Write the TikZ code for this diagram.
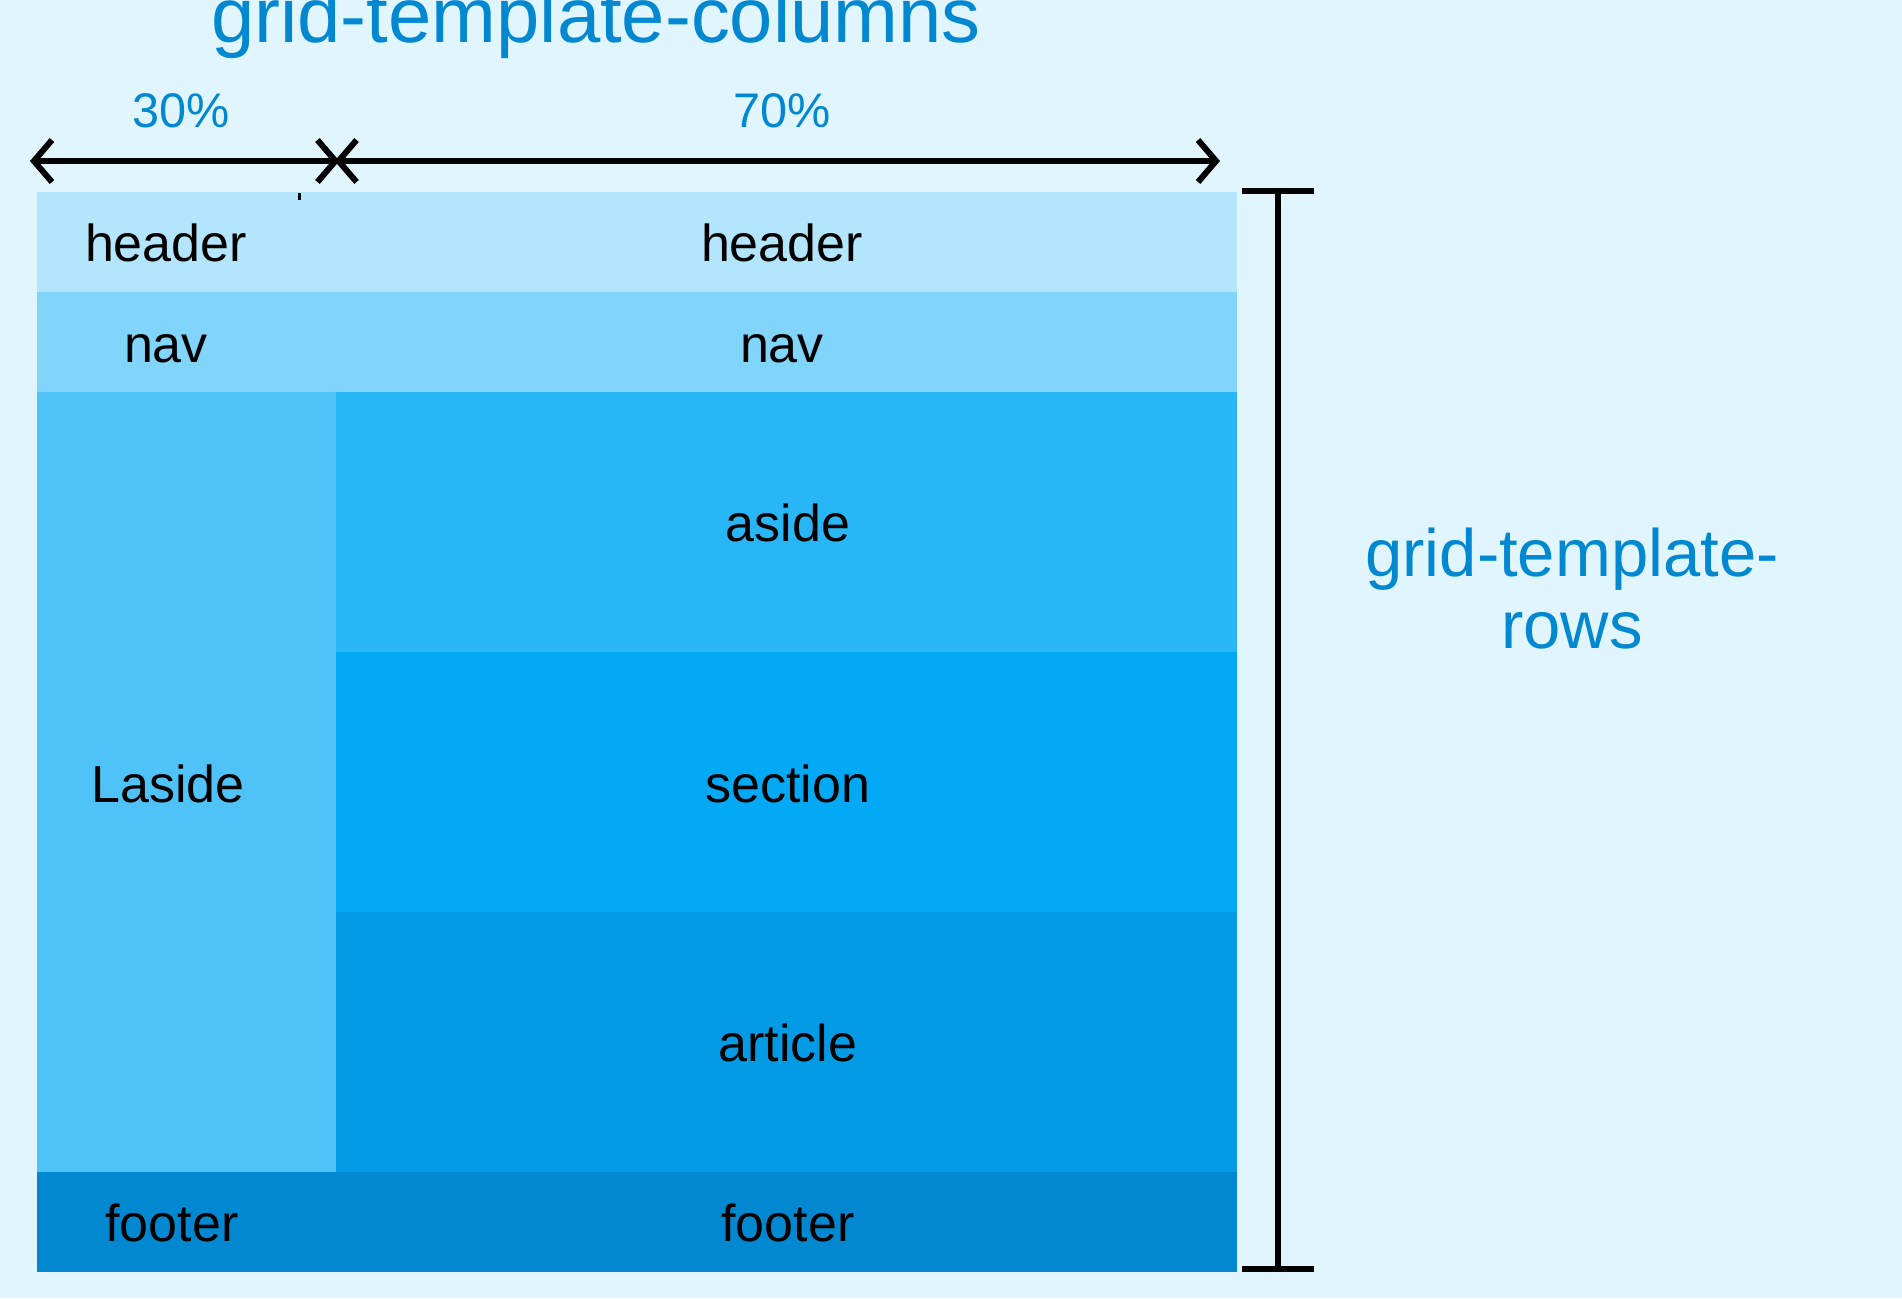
\documentclass[tikz,border=0pt]{standalone}
\usepackage{xcolor}
\usepackage{fontspec}
\setmainfont{Liberation Sans}
\usetikzlibrary{positioning, arrows.meta}
\definecolor{pagebg}{HTML}{E1F5FE}
\definecolor{headerbg}{HTML}{B3E5FC}
\definecolor{navbg}{HTML}{81D4FA}
\definecolor{lasidebg}{HTML}{4FC3F7}
\definecolor{asidebg}{HTML}{29B6F6}
\definecolor{sectionbg}{HTML}{03A9F4}
\definecolor{articlebg}{HTML}{039BE5}
\definecolor{footerbg}{HTML}{0288D1}
\definecolor{dimblue}{HTML}{0288D1}

\begin{document}
\begin{tikzpicture}[x=0.5pt, y=-0.5pt,
    celltext/.style={font=\fontsize{26}{30}\selectfont, text=black, anchor=base, inner sep=0pt},
    dimtext/.style={text=dimblue, anchor=base, inner sep=0pt},
    dimline/.style={line width=3pt, line cap=round, line join=round}]
  % page
  \fill[pagebg] (0,0) rectangle (1902,1298);
  \useasboundingbox (0,0) rectangle (1902,1298);

  % grid areas
  \fill[headerbg]  (37,192)  rectangle (1237,292);
  \fill[navbg]     (37,292)  rectangle (1237,392);
  \fill[lasidebg]  (37,392)  rectangle (336,1172);
  \fill[asidebg]   (336,392) rectangle (1237,652);
  \fill[sectionbg] (336,652) rectangle (1237,912);
  \fill[articlebg] (336,912) rectangle (1237,1172);
  \fill[footerbg]  (37,1172) rectangle (1237,1272);
  \draw[line width=1.5pt] (299,193) -- (299,200);

  % area names
  \node[celltext] (hdrL)  at (166,261)  {header};
  \node[celltext] (hdrR)  at (782,261)  {header};
  \node[celltext] (navL)  at (166,362)  {nav};
  \node[celltext] (navR)  at (782,362)  {nav};
  \node[celltext] (aside) at (788,541)  {aside};
  \node[celltext] (lasd)  at (168,802)  {Laside};
  \node[celltext] (sect)  at (788,802)  {section};
  \node[celltext] (artc)  at (788,1061) {article};
  \node[celltext] (ftrL)  at (172,1241) {footer};
  \node[celltext] (ftrR)  at (788,1241) {footer};

  % columns
  \node[dimtext, font=\fontsize{38.9}{44}\selectfont] (coltitle) at (596,42) {grid-template-columns};
  \node[dimtext, font=\fontsize{24.3}{28}\selectfont] (colA) at (181,127) {30\%};
  \node[dimtext, font=\fontsize{24.3}{28}\selectfont] (colB) at (782,127) {70\%};
  \coordinate (colL) at (30,161);
  \coordinate (colM) at (337,161);
  \coordinate (colR) at (1220,161);
  \draw[dimline, shorten >=-1.2pt, {Straight Barb[length=9pt, width=21pt]}-{Straight Barb[length=9pt, width=21pt]}] (colL) -- (colM);
  \draw[dimline, shorten <=-1.2pt, {Straight Barb[length=9pt, width=21pt]}-{Straight Barb[length=9pt, width=21pt]}] (colM) -- (colR);

  % rows
  \coordinate (rowT) at (1278,188);
  \coordinate (rowB) at (1278,1272);
  \draw[line width=3pt, {Bar[width=36pt]}-{Bar[width=36pt]}] (rowT) -- (rowB);
  \node[dimtext, font=\fontsize{33.5}{36}\selectfont] (rowtitleA) at (1572,576) {grid-template-};
  \node[dimtext, font=\fontsize{33.5}{36}\selectfont] (rowtitleB) at (1572,648) {rows};
\end{tikzpicture}
\end{document}
